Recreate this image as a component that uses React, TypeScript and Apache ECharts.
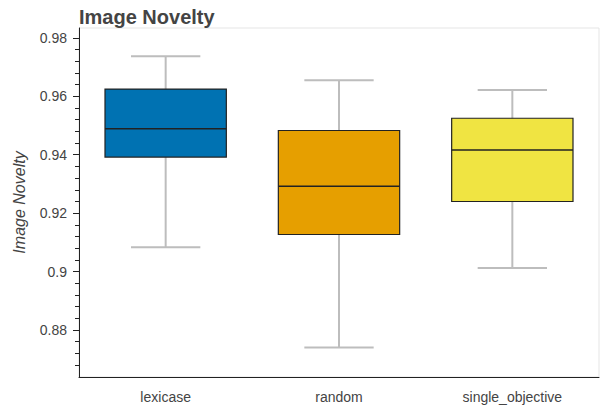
import React, { useEffect, useRef } from "react";
import * as echarts from "echarts";

const categories = ["lexicase", "random", "single_objective"];
const lowerWhisker = [0.9083, 0.874, 0.9012];
const q1 = [0.9392, 0.9127, 0.924];
const median = [0.9489, 0.9292, 0.9416];
const q3 = [0.9625, 0.9483, 0.9525];
const upperWhisker = [0.9737, 0.9655, 0.9622];
const boxColors = ["#0072B2", "#E69F00", "#F0E442"];
const yMajorTicks = [0.88, 0.9, 0.92, 0.94, 0.96, 0.98];
const yMinorTicks = [
  0.868, 0.872, 0.876, 0.884, 0.888, 0.892, 0.896, 0.904, 0.908, 0.912, 0.916,
  0.924, 0.928, 0.932, 0.936, 0.944, 0.948, 0.952, 0.956, 0.964, 0.968, 0.972,
  0.976,
];
const yMin = 0.8639;
const yMax = 0.9834;

const FONT = "Helvetica, Arial, 'Liberation Sans', sans-serif";

export default function App() {
  const ref = useRef<HTMLDivElement>(null);
  useEffect(() => {
    if (!ref.current) return;
    const chart = echarts.init(ref.current, null, { renderer: "svg" });
    const data = categories.map((_, i) => [
      i,
      lowerWhisker[i],
      q1[i],
      median[i],
      q3[i],
      upperWhisker[i],
    ]);
    chart.setOption({
      animation: false,
      title: {
        text: "Image Novelty",
        left: 74,
        top: 2,
        textStyle: { fontSize: 20, fontWeight: "bold", color: "#444", fontFamily: FONT },
      },
      grid: {
        left: 79,
        right: 4,
        top: 28,
        bottom: 30,
        show: true,
        borderColor: "#e5e5e5",
        borderWidth: 1,
        backgroundColor: "transparent",
      },
      xAxis: {
        type: "category",
        data: categories,
        boundaryGap: true,
        axisLine: { lineStyle: { color: "#222", width: 1 } },
        axisTick: { alignWithLabel: true, length: 6, lineStyle: { color: "#222" } },
        axisLabel: { fontSize: 14, color: "#444", fontFamily: FONT, margin: 13 },
        splitLine: { show: false },
      },
      yAxis: [
        {
          type: "value",
          min: yMin,
          max: yMax,
          name: "Image Novelty",
          nameLocation: "middle",
          nameGap: 52,
          nameTextStyle: { fontSize: 16, fontStyle: "italic", color: "#444", fontFamily: FONT },
          axisLine: { show: true, lineStyle: { color: "#222", width: 1 } },
          axisTick: { show: true, length: 6, customValues: yMajorTicks, lineStyle: { color: "#222" } },
          axisLabel: {
            fontSize: 14,
            color: "#444",
            fontFamily: FONT,
            margin: 12,
            customValues: yMajorTicks,
            formatter: (v: number) => String(v),
          },
          splitLine: { show: false },
        },
        {
          type: "value",
          min: yMin,
          max: yMax,
          position: "left",
          axisLine: { show: false },
          axisTick: { show: true, length: 4, customValues: yMinorTicks, lineStyle: { color: "#222" } },
          axisLabel: { show: false },
          splitLine: { show: false },
        },
      ],
      series: [
        {
          type: "custom",
          yAxisIndex: 0,
          data,
          encode: { x: 0, y: [1, 2, 3, 4, 5] },
          renderItem: (params: any, api: any) => {
            const i = api.value(0);
            const band = api.size([1, 0])[0];
            const pLow = api.coord([i, api.value(1)]);
            const pQ1 = api.coord([i, api.value(2)]);
            const pMed = api.coord([i, api.value(3)]);
            const pQ3 = api.coord([i, api.value(4)]);
            const pHigh = api.coord([i, api.value(5)]);
            const cx = pLow[0];
            const boxW = band * 0.7;
            const capW = band * 0.4;
            const whisk = { stroke: "#bdbdbd", lineWidth: 2 };
            return {
              type: "group",
              children: [
                { type: "line", shape: { x1: cx, y1: pHigh[1], x2: cx, y2: pLow[1] }, style: whisk },
                { type: "line", shape: { x1: cx - capW / 2, y1: pHigh[1], x2: cx + capW / 2, y2: pHigh[1] }, style: whisk },
                { type: "line", shape: { x1: cx - capW / 2, y1: pLow[1], x2: cx + capW / 2, y2: pLow[1] }, style: whisk },
                {
                  type: "rect",
                  shape: { x: cx - boxW / 2, y: pQ3[1], width: boxW, height: pQ1[1] - pQ3[1] },
                  style: { fill: boxColors[i], stroke: "#222", lineWidth: 1.2 },
                },
                {
                  type: "line",
                  shape: { x1: cx - boxW / 2, y1: pMed[1], x2: cx + boxW / 2, y2: pMed[1] },
                  style: { stroke: "#222", lineWidth: 1.5 },
                },
              ],
            };
          },
        },
      ],
    });
    return () => chart.dispose();
  }, []);
  return (
    <div
      ref={ref}
      style={{ position: "fixed", left: 0, top: 0, width: 603, height: 407, background: "#fff" }}
    />
  );
}
